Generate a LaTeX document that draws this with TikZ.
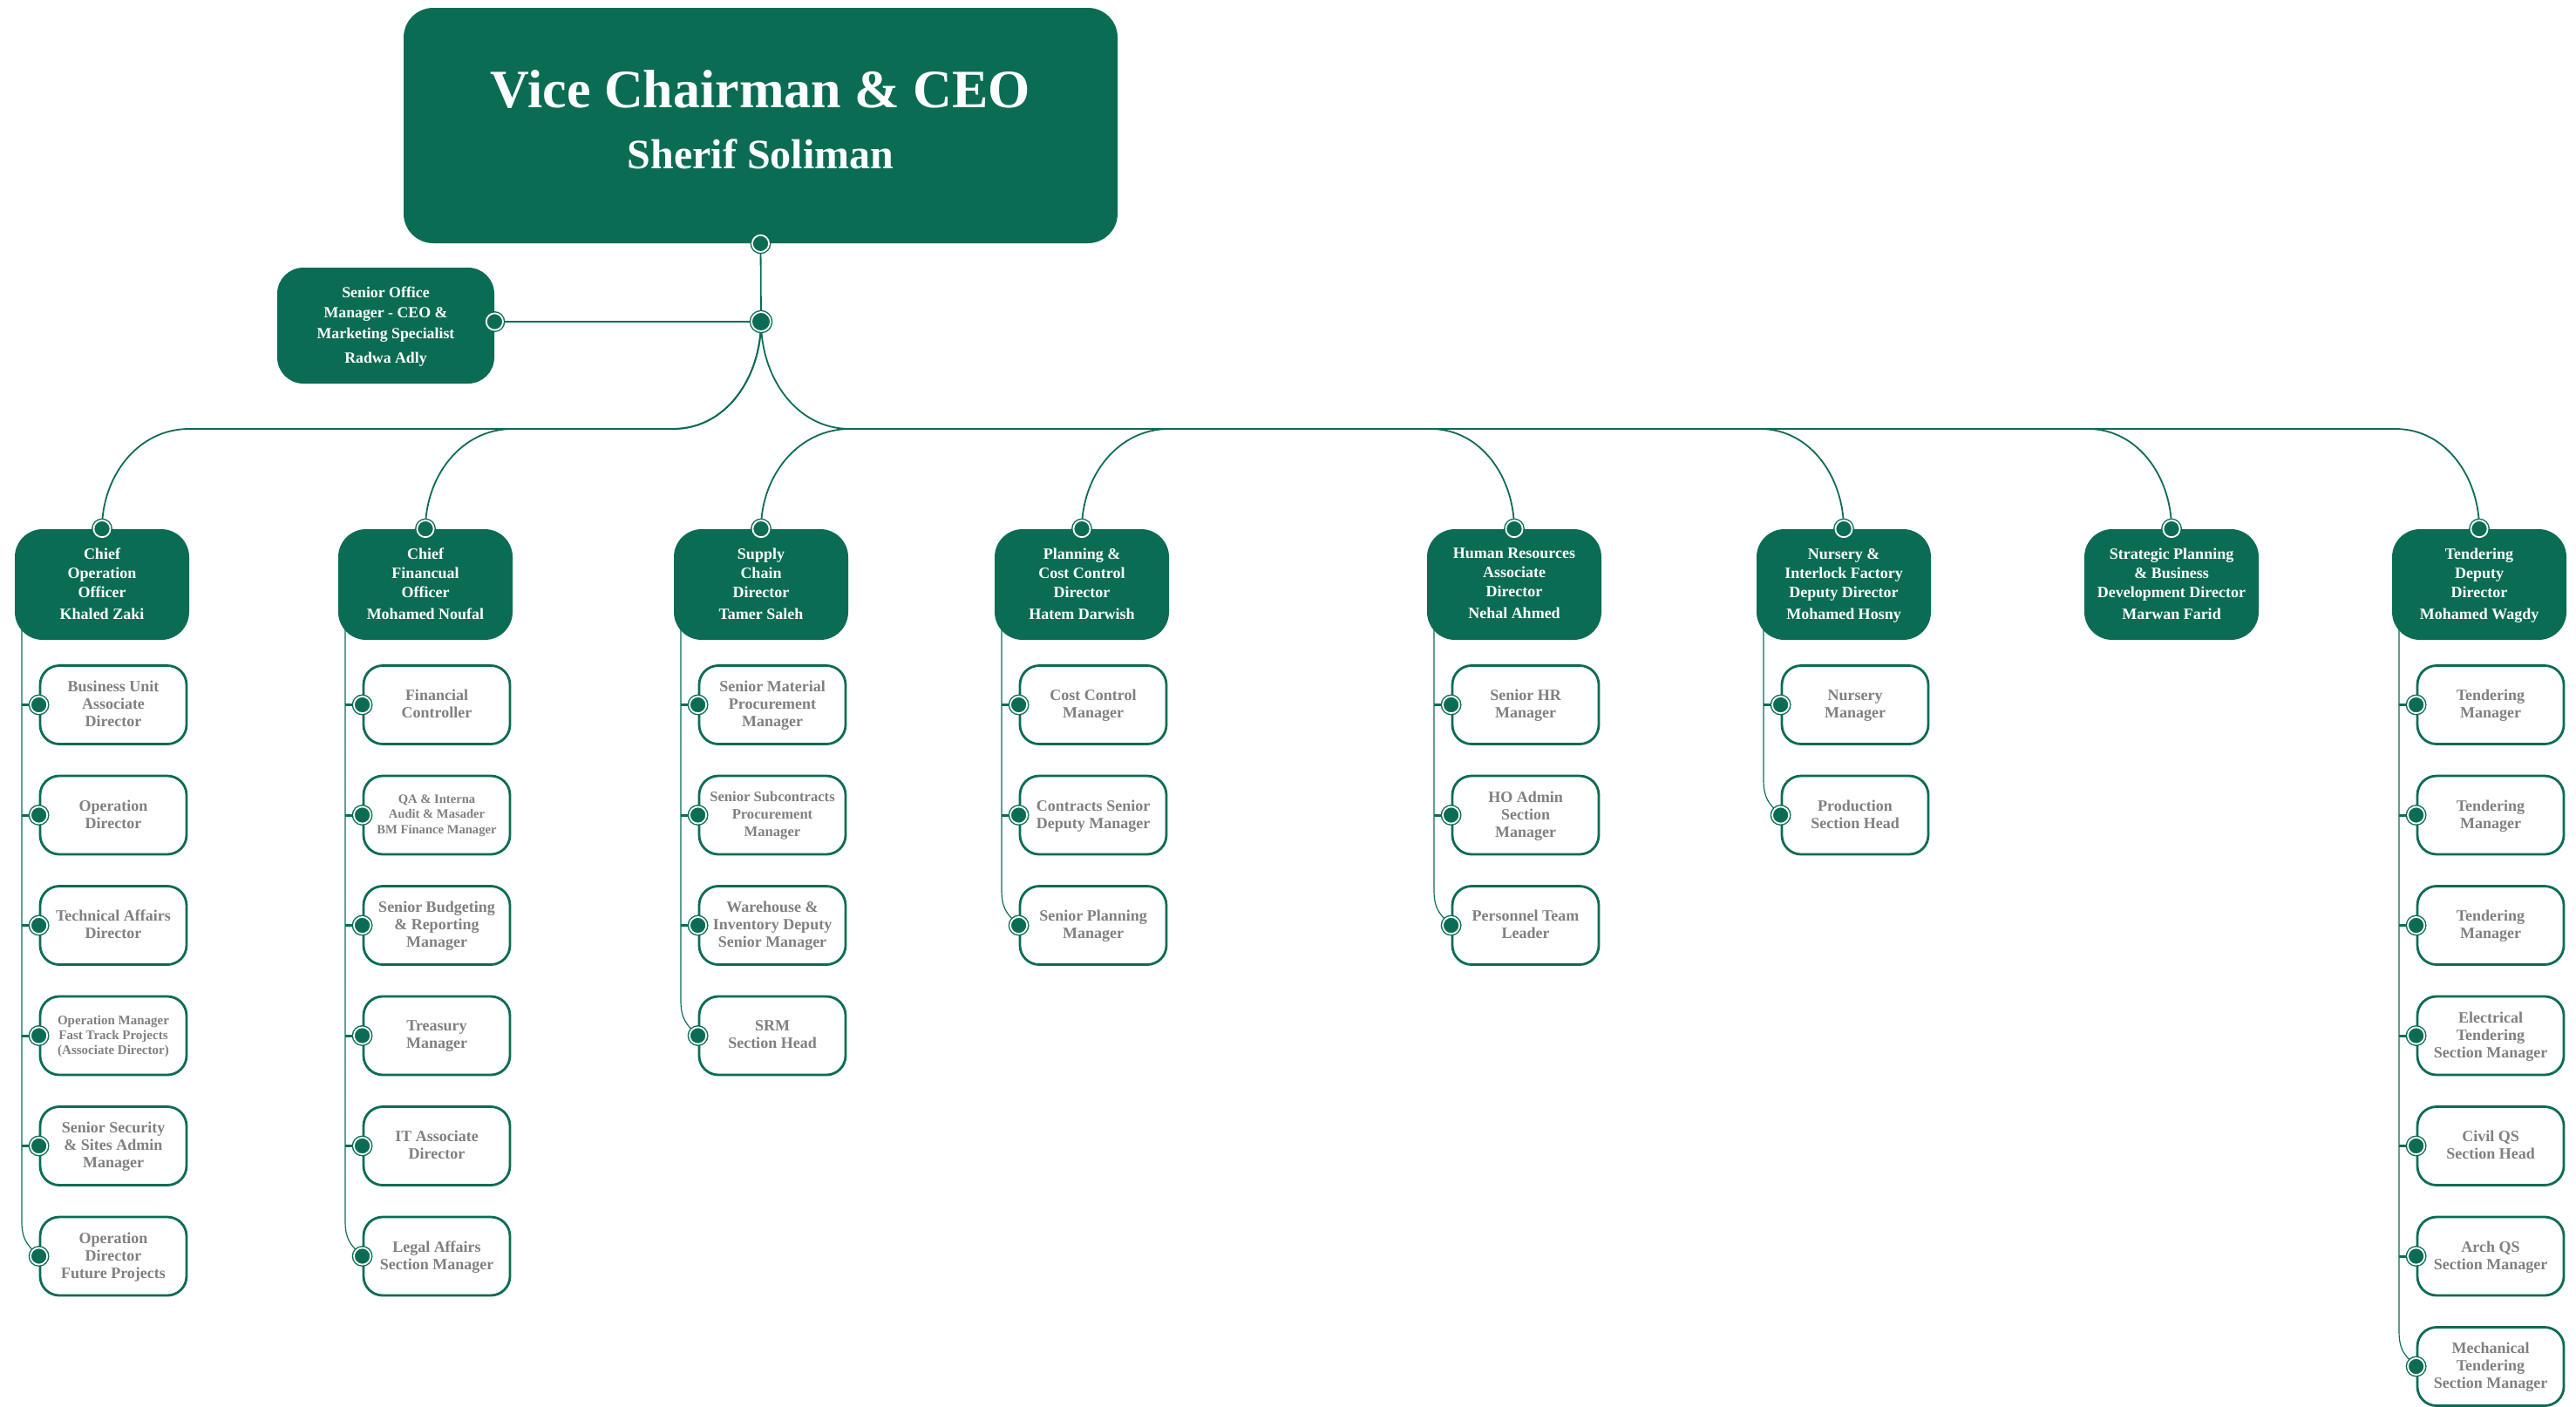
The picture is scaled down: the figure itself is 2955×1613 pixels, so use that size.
\documentclass[tikz,border=0pt]{standalone}
\usepackage{fontspec}
\setmainfont{Liberation Serif}
\usepackage{tikz}
\usetikzlibrary{backgrounds}
\usetikzlibrary{calc}
\definecolor{orgreen}{RGB}{11,108,84}
\definecolor{postgrey}{RGB}{128,128,128}
\tikzset{
  ceo/.style={rectangle, rounded corners=17pt, fill=orgreen, text=white, align=center,
    minimum width=409.5pt, minimum height=135pt, text depth=7pt, font=\bfseries\fontsize{24}{35}\selectfont},
  office/.style={rectangle, rounded corners=15pt, fill=orgreen, text=white, align=center,
    minimum width=124.5pt, minimum height=66.5pt, text depth=1pt, font=\bfseries\fontsize{8.9}{11.75}\selectfont},
  chief/.style={rectangle, rounded corners=16pt, fill=orgreen, text=white, align=center, inner sep=1pt,
    minimum width=100pt, minimum height=63.5pt, text depth=1pt, font=\bfseries\fontsize{9}{11}\selectfont},
  post/.style={rectangle, rounded corners=11pt, draw=orgreen, line width=1.4pt, fill=white, text=postgrey,
    align=center, inner sep=1pt, minimum width=84pt, minimum height=45pt, text depth=1pt,
    font=\bfseries\fontsize{9}{10}\selectfont},
  dot/.style={circle, inner sep=0pt, minimum size=9.6pt, fill=orgreen, draw=white, line width=0.9pt,
    preaction={draw=orgreen, line width=2.3pt}},
  link/.style={draw=orgreen, line width=0.9pt},
  stem/.style={draw=orgreen, line width=0.6pt},
  stub/.style={draw=orgreen, line width=1.5pt}
}
\begin{document}
\begin{tikzpicture}[x=0.5pt,y=0.5pt]
\useasboundingbox (0,0) rectangle (2955,-1613);

\node[ceo] (ceo) at (872.5,-144) {{\fontsize{31}{35}\selectfont Vice Chairman \& CEO}\\Sherif Soliman};
\node[dot] (ceo-out) at (ceo.south) {};
\node[dot, minimum size=11pt] (hub) at (873,-369) {};
\node[office] (office) at (442.5,-373.5) {Senior Office\\Manager - CEO \&\\Marketing Specialist\\[2.25pt]Radwa Adly};
\node[dot] (office-in) at (office.east |- hub) {};

\node[chief] (coo) at (117,-670.5) {Chief\\Operation\\Officer\\[1.5pt]Khaled Zaki};
\node[chief] (cfo) at (488,-670.5) {Chief\\Financual\\Officer\\[1.5pt]Mohamed Noufal};
\node[chief] (sup) at (873,-670.5) {Supply\\Chain\\Director\\[1.5pt]Tamer Saleh};
\node[chief] (pln) at (1241,-670.5) {Planning \&\\Cost Control\\Director\\[1.5pt]Hatem Darwish};
\node[chief] (hr) at (1737,-670.5) {Human Resources\\Associate\\Director\\[1.5pt]Nehal Ahmed};
\node[chief] (nur) at (2115,-670.5) {Nursery \&\\Interlock Factory\\Deputy Director\\[1.5pt]Mohamed Hosny};
\node[chief] (str) at (2491,-670.5) {Strategic Planning\\\& Business\\Development Director\\[1.5pt]Marwan Farid};
\node[chief] (tnd) at (2844,-670.5) {Tendering\\Deputy\\Director\\[1.5pt]Mohamed Wagdy};
\foreach \n in {coo,cfo,sup,pln,hr,nur,str,tnd}
  \node[dot] (\n-in) at (\n.north) {};

\node[post] (coo1) at (130,-808.5) {Business Unit\\Associate\\Director};
\node[post] (coo2) at (130,-935) {Operation\\Director};
\node[post] (coo3) at (130,-1061.5) {Technical Affairs\\Director};
\node[post, font=\bfseries\fontsize{7.5}{8.6}\selectfont] (coo4) at (130,-1188) {Operation Manager\\Fast Track Projects\\(Associate Director)};
\node[post] (coo5) at (130,-1314.5) {Senior Security\\\& Sites Admin\\Manager};
\node[post] (coo6) at (130,-1441) {Operation\\Director\\Future Projects};

\node[post] (cfo1) at (501,-808.5) {Financial\\Controller};
\node[post, font=\bfseries\fontsize{7.3}{8.7}\selectfont] (cfo2) at (501,-935) {QA \& Interna\\Audit \& Masader\\BM Finance Manager};
\node[post] (cfo3) at (501,-1061.5) {Senior Budgeting\\\& Reporting\\Manager};
\node[post] (cfo4) at (501,-1188) {Treasury\\Manager};
\node[post] (cfo5) at (501,-1314.5) {IT Associate\\Director};
\node[post] (cfo6) at (501,-1441) {Legal Affairs\\Section Manager};

\node[post] (sup1) at (886,-808.5) {Senior Material\\Procurement\\Manager};
\node[post, font=\bfseries\fontsize{8.3}{10}\selectfont] (sup2) at (886,-935) {Senior Subcontracts\\Procurement\\Manager};
\node[post] (sup3) at (886,-1061.5) {Warehouse \&\\Inventory Deputy\\Senior Manager};
\node[post] (sup4) at (886,-1188) {SRM\\Section Head};

\node[post] (pln1) at (1254,-808.5) {Cost Control\\Manager};
\node[post] (pln2) at (1254,-935) {Contracts Senior\\Deputy Manager};
\node[post] (pln3) at (1254,-1061.5) {Senior Planning\\Manager};

\node[post] (hr1) at (1750,-808.5) {Senior HR\\Manager};
\node[post] (hr2) at (1750,-935) {HO Admin\\Section\\Manager};
\node[post] (hr3) at (1750,-1061.5) {Personnel Team\\Leader};

\node[post] (nur1) at (2128,-808.5) {Nursery\\Manager};
\node[post] (nur2) at (2128,-935) {Production\\Section Head};

\node[post] (tnd1) at (2857,-808.5) {Tendering\\Manager};
\node[post] (tnd2) at (2857,-935) {Tendering\\Manager};
\node[post] (tnd3) at (2857,-1061.5) {Tendering\\Manager};
\node[post] (tnd4) at (2857,-1188) {Electrical\\Tendering\\Section Manager};
\node[post] (tnd5) at (2857,-1314.5) {Civil QS\\Section Head};
\node[post] (tnd6) at (2857,-1441) {Arch QS\\Section Manager};
\node[post] (tnd7) at (2857,-1567.5) {Mechanical\\Tendering\\Section Manager};

\foreach \n/\m in {coo/6,cfo/6,sup/4,pln/3,hr/3,nur/2,tnd/7}
  \foreach \k in {1,...,\m}
    \node[dot] (\n\k-in) at (\n\k.west) {};

\begin{scope}[on background layer]
\coordinate (busl) at ($(hub)+(-101,-123)$);
\coordinate (busr) at ($(hub)+(102,-123)$);
\draw[link] (ceo-out) -- (hub);
\draw[link] (hub) -- (office-in);
\foreach \n in {coo,cfo}
  \draw[link] (hub.center) to[out=-90,in=0] (busl) -- ($(busl -| \n-in)+(100,0)$) to[out=180,in=90] (\n-in.center);
\draw[link] (hub.center) to[out=-90,in=180] (busr) to[out=180,in=90] (sup-in.center);
\draw[link] (busr) -- ($(busr -| pln-in)+(100,0)$) to[out=180,in=90] (pln-in.center);
\foreach \n in {hr,nur,str,tnd}
  \draw[link] (busr) -- ($(busr -| \n-in)+(-96,0)$) to[out=0,in=90] (\n-in.center);

\foreach \n/\m in {coo/6,cfo/6,sup/4,pln/3,hr/3,nur/2,tnd/7} {
  \coordinate (\n-s) at ($(\n.south)+(-92,30)$);
  \draw[stem] (\n-s) -- ($(\n-s |- \n\m-in)+(0,40)$) to[out=-90,in=135] (\n\m-in);
  \pgfmathtruncatemacro\l{\m-1}
  \foreach \k in {1,...,\l}
    \draw[stub] (\n\k-in.center) -- (\n\k-in -| \n-s);
}
\end{scope}
\end{tikzpicture}
\end{document}
